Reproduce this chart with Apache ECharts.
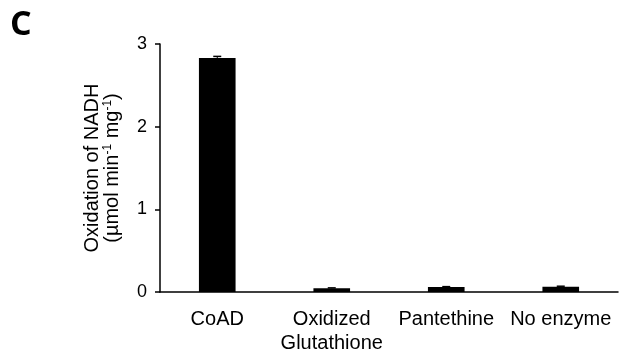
<!DOCTYPE html>
<html><head><meta charset="utf-8">
<script src="https://cdn.jsdelivr.net/npm/echarts@6/dist/echarts.min.js"></script>
<style>html,body{margin:0;padding:0;background:#fff}#c{width:621px;height:355px}</style>
</head><body><div id="c"></div>
<script>
const categories = ['CoAD', 'Oxidized\nGlutathione', 'Pantethine', 'No enzyme'];
const values = [2.83, 0.045, 0.06, 0.065];
const errors = [0.02, 0.005, 0.005, 0.005];
const yTicks = [0, 1, 2, 3];

const chart = echarts.init(document.getElementById('c'));
const font = 'Liberation Sans, Arial, sans-serif';
chart.setOption({
  animation: false,
  backgroundColor: '#fff',
  graphic: [{type: 'text', x: 10, y: 25, style: {text: 'C', fontSize: 34, fontWeight: 'bold', fontFamily: 'Open Sans', fill: '#000', align: 'left', verticalAlign: 'middle'}}],
  grid: {left: 160, right: 3, top: 44, bottom: 62},
  xAxis: {
    type: 'category', data: categories,
    axisLine: {lineStyle: {color: '#000', width: 1.5}},
    axisTick: {show: false},
    axisLabel: {color: '#000', fontSize: 20, fontFamily: font, margin: 15, lineHeight: 24, interval: 0}
  },
  yAxis: {
    type: 'value', min: 0, max: 3, interval: 1,
    splitLine: {show: false},
    axisLine: {show: true, lineStyle: {color: '#000', width: 1.5}},
    axisTick: {show: true, length: 5, lineStyle: {color: '#000', width: 1.5}},
    axisLabel: {color: '#000', fontSize: 18, fontFamily: font, margin: 13,
      formatter: v => yTicks.includes(v) ? String(v) : ''},
    name: '{a|Oxidation of NADH}\n{a|(µmol min}{s|-1}{a| mg}{s|-1}{a|)}',
    nameLocation: 'middle', nameGap: 38,
    nameTextStyle: {
      color: '#000', fontFamily: font, fontSize: 20, lineHeight: 20,
      rich: {
        a: {fontSize: 20, fontFamily: font, color: '#000', lineHeight: 20},
        s: {fontSize: 12, fontFamily: font, color: '#000', verticalAlign: 'top', padding: [0, 0, 8, 0], lineHeight: 20}
      }
    }
  },
  series: [
    {type: 'bar', data: values, barWidth: '32%', itemStyle: {color: '#000'}},
    {
      type: 'custom',
      data: values.map((v, i) => [i, v, errors[i]]),
      renderItem: (params, api) => {
        const i = api.value(0), v = api.value(1), e = api.value(2);
        const top = api.coord([i, v + e]);
        const mid = api.coord([i, v]);
        const w = 8;
        return {type: 'group', children: [
          {type: 'line', shape: {x1: top[0], y1: top[1], x2: mid[0], y2: mid[1]}, style: {stroke: '#000', lineWidth: 1}},
          {type: 'line', shape: {x1: top[0] - w / 2, y1: top[1], x2: top[0] + w / 2, y2: top[1]}, style: {stroke: '#000', lineWidth: 1.5}}
        ]};
      },
      z: 5
    }
  ]
});
</script></body></html>
